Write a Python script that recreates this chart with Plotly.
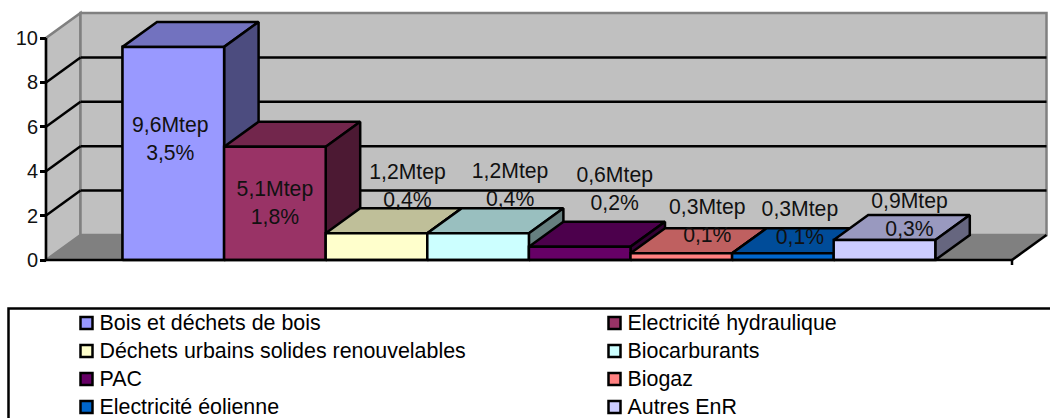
import plotly.graph_objects as go

# --- data ---
categories = ["Bois et déchets de bois", "Electricité hydraulique",
              "Déchets urbains solides renouvelables", "Biocarburants",
              "PAC", "Biogaz", "Electricité éolienne", "Autres EnR"]
values = [9.6, 5.1, 1.2, 1.2, 0.6, 0.3, 0.3, 0.9]
mtep_labels = ["9,6Mtep", "5,1Mtep", "1,2Mtep", "1,2Mtep", "0,6Mtep", "0,3Mtep", "0,3Mtep", "0,9Mtep"]
pct_labels = ["3,5%", "1,8%", "0,4%", "0,4%", "0,2%", "0,1%", "0,1%", "0,3%"]
colors = ["#9999FF", "#993366", "#FFFFCC", "#CCFFFF", "#660066", "#FF8080", "#0066CC", "#CCCCFF"]
y_ticks = [0, 2, 4, 6, 8, 10]
y_gridvalues = [2, 4, 6, 8]

# --- layout constants (pixels in the 1050x418 page) ---
W, H = 1050, 418
X0_PX, UNIT_X = 122.5, 101.6      # left of the first bar, width of a bar
Y0_PX, UNIT_Y = 260.0, 22.2       # y of value 0, pixels per unit
DX, DY = 34.5 / UNIT_X, 25.0 / UNIT_Y   # oblique depth, in axis units
AX_L, AX_R = (46 - X0_PX) / UNIT_X, (1012 - X0_PX) / UNIT_X
LINE = 2.5
FONT = "Liberation Sans, Arial, sans-serif"
LABEL_FS = 21.2
LEGEND_FS = 21.4
TICK_FS = 20

# label centres: offset in pixels from the top-centre of the bar's front face (x right, y up)
mtep_off = [(-3, -79.5), (0, -43.5), (31, 59.5), (32, 60.5), (35, 69.5), (26, 44.5), (17, 42.5), (25, 37)]
LINE_GAP = 28

# legend layout in page pixels
LEG_SWATCH_X = [86.5, 614.5]
LEG_TEXT_X = [99.5, 627.5]
LEG_SWATCH_Y = [323, 351, 379, 407]
LEG_TEXT_Y = [325, 353, 381, 409]


def ax_x(px):
    return (px - X0_PX) / UNIT_X


def ax_y(px):
    return (Y0_PX - px) / UNIT_Y


def shade(hex_color, k):
    r, g, b = (int(hex_color[j:j + 2], 16) for j in (1, 3, 5))
    return "#%02X%02X%02X" % (int(r * k), int(g * k), int(b * k))


def poly(xs, ys, fill):
    return go.Scatter(x=xs + xs[:1], y=ys + ys[:1], mode="lines", fill="toself", fillcolor=fill,
                      line=dict(color="black", width=LINE), showlegend=False, hoverinfo="skip")


fig = go.Figure()

# real bars (front faces)
for i, (name, v, c) in enumerate(zip(categories, values, colors)):
    fig.add_bar(x=[i + 0.5], y=[v], width=1, name=name, showlegend=False,
                marker=dict(color=c, line=dict(color="black", width=LINE)), hoverinfo="skip")

# painter's order for the oblique faces
for i, (v, c) in enumerate(zip(values, colors)):
    fig.add_trace(poly([i, i + 1, i + 1 + DX, i + DX], [v, v, v + DY, v + DY], shade(c, 0.75)))
    fig.add_trace(poly([i + 1, i + 1, i + 1 + DX, i + 1 + DX], [0, v, v + DY, DY], shade(c, 0.5)))
    fig.add_trace(poly([i, i + 1, i + 1, i], [0, 0, v, v], c))

# data labels
lab_x = [i + 0.5 + o[0] / UNIT_X for i, o in enumerate(mtep_off)]
lab_y1 = [v + o[1] / UNIT_Y for v, o in zip(values, mtep_off)]
lab_y2 = [y - LINE_GAP / UNIT_Y for y in lab_y1]
for ys, txt in ((lab_y1, mtep_labels), (lab_y2, pct_labels)):
    fig.add_trace(go.Scatter(x=lab_x, y=ys, text=txt, mode="text", textposition="middle center",
                             textfont=dict(family=FONT, size=LABEL_FS, color="#111111"),
                             showlegend=False, hoverinfo="skip"))

# legend: two columns filled row by row
leg_col = [i % 2 for i in range(len(categories))]
leg_row = [i // 2 for i in range(len(categories))]
fig.add_trace(go.Scatter(
    x=[ax_x(LEG_SWATCH_X[c]) for c in leg_col], y=[ax_y(LEG_SWATCH_Y[r]) for r in leg_row], mode="markers",
    marker=dict(symbol="square", size=12, color=colors, line=dict(color="black", width=LINE)),
    showlegend=False, hoverinfo="skip"))
fig.add_trace(go.Scatter(
    x=[ax_x(LEG_TEXT_X[c]) for c in leg_col], y=[ax_y(LEG_TEXT_Y[r]) for r in leg_row], mode="text",
    text=categories, textposition="middle right", textfont=dict(family=FONT, size=LEGEND_FS, color="black"),
    showlegend=False, hoverinfo="skip"))

# walls, floor and grid, underneath the bars
G = "#808080"
shapes = [
    dict(type="path", path=f"M{AX_L},0 L{AX_L + DX},{DY} L{AX_R + DX},{DY} L{AX_R},0 Z",
         fillcolor=G, line=dict(color=G, width=1), layer="below"),
    dict(type="path", path=f"M{AX_L},0 L{AX_L},10 L{AX_L + DX},{10 + DY} L{AX_L + DX},{DY} Z",
         fillcolor="#C0C0C0", line=dict(color=G, width=LINE), layer="below"),
    dict(type="rect", x0=AX_L + DX, x1=AX_R + DX, y0=DY, y1=10 + DY,
         fillcolor="#C0C0C0", line=dict(color=G, width=LINE), layer="below"),
]
for g in y_gridvalues:
    shapes.append(dict(type="line", x0=AX_L, x1=AX_L + DX, y0=g, y1=g + DY, line=dict(color="black", width=LINE), layer="below"))
    shapes.append(dict(type="line", x0=AX_L + DX, x1=AX_R + DX, y0=g + DY, y1=g + DY, line=dict(color="black", width=LINE), layer="below"))
shapes += [
    dict(type="line", x0=AX_R, x1=AX_R + DX, y0=0, y1=DY, line=dict(color="black", width=LINE), layer="below"),
    dict(type="line", x0=AX_L, x1=AX_R, y0=0, y1=0, line=dict(color="black", width=LINE), layer="above"),
    dict(type="line", x0=AX_L, x1=AX_L, y0=0, y1=10, line=dict(color="black", width=LINE), layer="above"),
    dict(type="line", x0=AX_R, x1=AX_R, y0=0, y1=-5 / UNIT_Y, line=dict(color="black", width=LINE), layer="above"),
    # legend frame, running off the page to the right and bottom
    dict(type="rect", xref="paper", yref="paper", x0=8.5 / W, x1=1060 / W, y0=1 - 308.5 / H, y1=1 - 430 / H,
         line=dict(color="black", width=LINE), fillcolor="white", layer="below"),
]

fig.update_layout(
    width=W, height=H, margin=dict(l=0, r=0, t=0, b=0), paper_bgcolor="white", plot_bgcolor="rgba(0,0,0,0)",
    showlegend=False, shapes=shapes, bargap=0, barmode="overlay",
    font=dict(family=FONT, size=LABEL_FS, color="black"),
    xaxis=dict(range=[-X0_PX / UNIT_X, (W - X0_PX) / UNIT_X], visible=False, domain=[0, 1]),
    yaxis=dict(range=[(Y0_PX - H) / UNIT_Y, Y0_PX / UNIT_Y], anchor="free", position=46 / W, domain=[0, 1],
               tickmode="array", tickvals=y_ticks, ticks="outside", ticklen=6, tickwidth=LINE, tickcolor="black",
               ticklabelstandoff=-2, showgrid=False, zeroline=False, showline=False,
               tickfont=dict(family=FONT, size=TICK_FS, color="#111111")),
)

fig.write_html("out.html", config=dict(displayModeBar=False),
               post_script="document.body.style.margin='0';")
